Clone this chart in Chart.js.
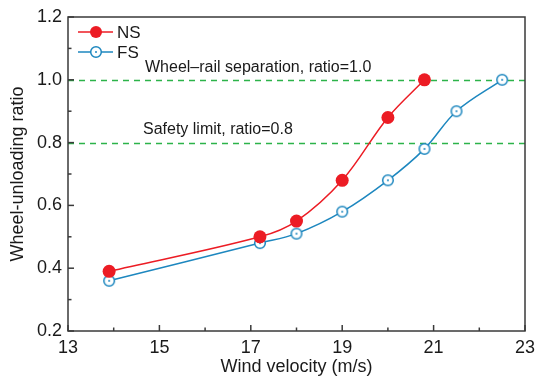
<!DOCTYPE html>
<html>
<head>
<meta charset="utf-8">
<script src="https://cdn.jsdelivr.net/npm/chart.js@4/dist/chart.umd.min.js"></script>
<style>
	html, body { margin: 0; padding: 0; background: #fff; }
	#wrap { width: 535px; height: 378px; }
</style>
</head>
<body>
<div id="wrap"><canvas id="chart"></canvas></div>
<script>
// wind velocity (m/s) and wheel-unloading ratio for both cases
let nsSpeed = [13.9, 17.2, 18.0, 19.0, 20.0, 20.8];
let nsRatio = [0.39, 0.50, 0.55, 0.68, 0.88, 1.00];
let fsSpeed = [13.9, 17.2, 18.0, 19.0, 20.0, 20.8, 21.5, 22.5];
let fsRatio = [0.36, 0.48, 0.51, 0.58, 0.68, 0.78, 0.90, 1.00];

let limitValues = [1.0, 0.8];
let limitLabels = ['Wheel\u2013rail separation, ratio=1.0', 'Safety limit, ratio=0.8'];

let xTicks = [13, 15, 17, 19, 21, 23];
let yTicks = [0.2, 0.4, 0.6, 0.8, 1.0, 1.2];

const RED = '#ec1c24';
const BLUE = '#1d87bf';
const GREEN = '#2cb34a';
const AXIS = '#3a3a3a';
const TEXT = '#1a1a1a';
const FONT = '"Liberation Sans", Arial, sans-serif';

let toPoints = (xs, ys) => xs.map((x, i) => ({ x, y: ys[i] }));

// open circle with a dot in the middle for the FS series
let dotCircle = (() => {
	let c = document.createElement('canvas');
	c.width = 14; c.height = 14;
	let g = c.getContext('2d');
	g.fillStyle = '#fff';
	g.strokeStyle = BLUE;
	g.lineWidth = 1.5;
	g.beginPath();
	g.arc(7, 7, 5.3, 0, Math.PI * 2);
	g.fill();
	g.stroke();
	g.fillStyle = BLUE;
	g.beginPath();
	g.arc(7, 7, 1, 0, Math.PI * 2);
	g.fill();
	return c;
})();

// dashed limit lines, their labels, inward ticks, frame and legend
let decorations = {
	id: 'decorations',
	beforeDatasetsDraw (chart) {
		let { ctx, chartArea: a, scales: { y } } = chart;
		ctx.save();
		ctx.strokeStyle = GREEN;
		ctx.lineWidth = 1.5;
		ctx.setLineDash([6, 5]);
		limitValues.forEach(v => {
			let py = Math.round(y.getPixelForValue(v)) + 0.5;
			ctx.beginPath();
			ctx.moveTo(a.left, py);
			ctx.lineTo(a.right, py);
			ctx.stroke();
		});
		ctx.setLineDash([]);
		ctx.fillStyle = TEXT;
		ctx.font = '16px ' + FONT;
		ctx.textBaseline = 'middle';
		ctx.fillText(limitLabels[0], 145, 68);
		ctx.fillText(limitLabels[1], 143, 130);
		ctx.restore();
	},
	afterDraw (chart) {
		let { ctx, chartArea: a, scales: { x, y } } = chart;
		ctx.save();
		ctx.strokeStyle = AXIS;
		ctx.lineWidth = 1.5;
		// inward tick marks on bottom and left
		for (let v = 13; v <= 23; v += 1) {
			let px = x.getPixelForValue(v);
			let len = v % 2 === 1 ? 6 : 3.5;
			ctx.beginPath();
			ctx.moveTo(px, a.bottom);
			ctx.lineTo(px, a.bottom - len);
			ctx.stroke();
		}
		for (let i = 2; i <= 12; i++) {
			let py = y.getPixelForValue(i / 10);
			let len = i % 2 === 0 ? 6 : 3.5;
			ctx.beginPath();
			ctx.moveTo(a.left, py);
			ctx.lineTo(a.left + len, py);
			ctx.stroke();
		}
		ctx.strokeRect(a.left, a.top, a.right - a.left, a.bottom - a.top);

		// legend entries: short line through the marker, then the name
		let entries = [
			{ name: 'NS', color: RED, y: 32, filled: true },
			{ name: 'FS', color: BLUE, y: 52, filled: false },
		];
		ctx.font = '17px ' + FONT;
		ctx.textBaseline = 'middle';
		entries.forEach(e => {
			ctx.strokeStyle = e.color;
			ctx.lineWidth = 1.5;
			ctx.beginPath();
			ctx.moveTo(78, e.y);
			ctx.lineTo(113, e.y);
			ctx.stroke();
			if (e.filled) {
				ctx.fillStyle = e.color;
				ctx.beginPath();
				ctx.arc(96, e.y, 6, 0, Math.PI * 2);
				ctx.fill();
			} else {
				ctx.drawImage(dotCircle, 89, e.y - 7);
			}
			ctx.fillStyle = TEXT;
			ctx.fillText(e.name, 117, e.y + 1);
		});
		ctx.restore();
	},
};

let cfg = {
	type: 'scatter',
	data: {
		datasets: [
			{
				label: 'NS',
				data: toPoints(nsSpeed, nsRatio),
				showLine: true,
				borderColor: RED,
				backgroundColor: RED,
				borderWidth: 1.5,
				tension: 0.35,
				pointRadius: 6.5,
				pointBorderWidth: 0,
				pointBackgroundColor: RED,
			},
			{
				label: 'FS',
				data: toPoints(fsSpeed, fsRatio),
				showLine: true,
				borderColor: BLUE,
				backgroundColor: BLUE,
				borderWidth: 1.5,
				tension: 0.35,
				pointStyle: dotCircle,
			},
		],
	},
	options: {
		responsive: true,
		maintainAspectRatio: false,
		animation: false,
		layout: { padding: { top: 17, right: 0, left: 0, bottom: 0 } },
		plugins: {
			legend: { display: false },
			tooltip: { enabled: false },
		},
		scales: {
			x: {
				type: 'linear',
				min: 13,
				max: 23,
				afterFit (scale) {
					scale.height = 47;
					scale.paddingLeft = 0;
					scale.paddingRight = 10;
				},
				afterBuildTicks (scale) { scale.ticks = xTicks.map(v => ({ value: v })); },
				grid: { display: false, drawTicks: false },
				border: { display: false },
				ticks: {
					color: TEXT,
					font: { family: FONT, size: 18 },
					padding: 6,
					maxRotation: 0,
				},
				title: {
					display: true,
					text: 'Wind velocity (m/s)',
					color: TEXT,
					font: { family: FONT, size: 18 },
					padding: { top: 0, bottom: 0 },
				},
			},
			y: {
				min: 0.2,
				max: 1.2,
				afterFit (scale) {
					scale.width = 68;
					scale.paddingTop = 0;
					scale.paddingBottom = 0;
				},
				afterBuildTicks (scale) { scale.ticks = yTicks.map(v => ({ value: v })); },
				grid: { display: false, drawTicks: false },
				border: { display: false },
				ticks: {
					color: TEXT,
					font: { family: FONT, size: 18 },
					padding: 6,
					callback: v => v.toFixed(1),
				},
				title: {
					display: true,
					text: 'Wheel-unloading ratio',
					color: TEXT,
					font: { family: FONT, size: 18 },
					padding: { top: 7, bottom: 0 },
				},
			},
		},
	},
	plugins: [ decorations ],
};

new Chart(document.getElementById('chart'), cfg);
</script>
</body>
</html>
